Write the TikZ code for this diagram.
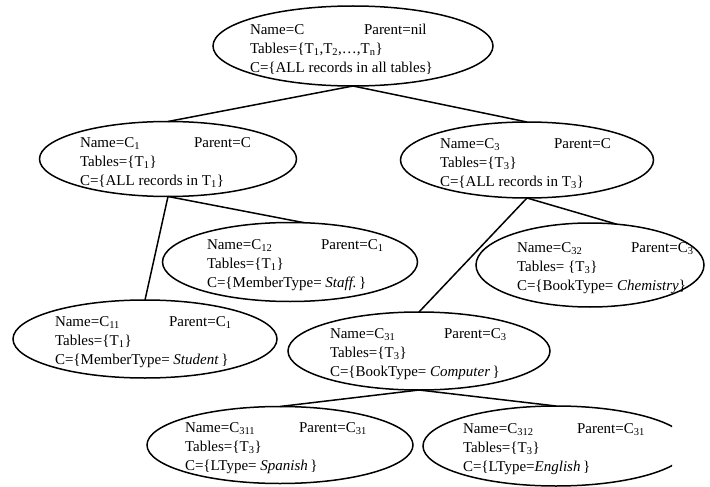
\documentclass[tikz,border=0pt]{standalone}
\usepackage{fontspec}
\setmainfont{Liberation Serif}
\usetikzlibrary{shapes.geometric}
\usetikzlibrary{positioning}

% text block of one cluster: offset, name, parent, tables, contents
\newcommand{\cinfo}[5]{\makebox[0pt][l]{\hspace*{-#1}\smash{\raisebox{-7pt}{\parbox[c]{260pt}{\makebox[114pt][l]{Name=#2}Parent=#3\\Tables=#4\\C=#5}}}}}

\begin{document}
\begin{tikzpicture}[on grid, line width=1.5pt,
    main/.style = {draw, ellipse, inner sep=0pt, outer sep=0pt, font=\fontsize{15}{19}\selectfont}]
    \useasboundingbox (0,0) rectangle (710pt,-487pt);
    % Nodes
    \node[main, minimum width=280pt, minimum height=80pt] (root) at (353pt,-46pt)
        {\cinfo{103pt}{C}{nil}{\{T\textsubscript{1},T\textsubscript{2},\ldots,T\textsubscript{n}\}}{\{ALL records in all tables\}}};
    \node[main, minimum width=257pt, minimum height=75pt] (C1) [below left=113pt and 185pt of root]
        {\cinfo{88pt}{C\textsubscript{1}}{C}{\{T\textsubscript{1}\}}{\{ALL records in T\textsubscript{1}\}}};
    \node[main, minimum width=253pt, minimum height=76pt] (C3) [below right=114pt and 174pt of root]
        {\cinfo{87pt}{C\textsubscript{3}}{C}{\{T\textsubscript{3}\}}{\{ALL records in T\textsubscript{3}\}}};
    \node[main, minimum width=255pt, minimum height=79pt] (C12) [below right=103pt and 122pt of C1]
        {\cinfo{83pt}{C\textsubscript{12}}{C\textsubscript{1}}{\{T\textsubscript{1}\}}{\{MemberType= \textit{Staff.}\,\}}};
    \node[main, minimum width=264pt, minimum height=78pt] (C11) [below left=180pt and 23pt of C1]
        {\cinfo{90pt}{C\textsubscript{11}}{C\textsubscript{1}}{\{T\textsubscript{1}\}}{\{MemberType= \textit{Student}\,\}}};
    \node[main, minimum width=228pt, minimum height=84pt] (C32) [below right=105pt and 63pt of C3]
        {\cinfo{73pt}{C\textsubscript{32}}{C\textsubscript{3}}{ \{T\textsubscript{3}\}}{\{BookType= \textit{Chemistry}\}}};
    \node[main, minimum width=262pt, minimum height=78pt] (C31) [below left=191pt and 108pt of C3]
        {\cinfo{89pt}{C\textsubscript{31}}{C\textsubscript{3}}{\{T\textsubscript{3}\}}{\{BookType= \textit{Computer}\,\}}};
    \node[main, minimum width=266pt, minimum height=77pt] (C311) [below left=94pt and 139pt of C31]
        {\cinfo{95pt}{C\textsubscript{311}}{C\textsubscript{31}}{\{T\textsubscript{3}\}}{\{LType= \textit{Spanish}\,\}}};
    \begin{scope}
        \clip (0,0) rectangle (672pt,-487pt);
        \node[main, minimum width=266pt, minimum height=80pt] (C312) [below right=95pt and 137pt of C31]
            {\cinfo{93pt}{C\textsubscript{312}}{C\textsubscript{31}}{\{T\textsubscript{3}\}}{\{LType=\textit{English}\,\}}};
    \end{scope}

    % Lines
    \draw (root.south) -- (C1.north);
    \draw (root.south) -- (C3.north);
    \draw (C1.south) -- (C11.north);
    \draw (C1.south) -- (C12.70);
    \draw (C3.south) -- (C31.north);
    \draw (C3.south) -- (C32.57);
    \draw (C31.south) -- (C311.north);
    \draw (C31.south) -- (C312.north);
\end{tikzpicture}
\end{document}
